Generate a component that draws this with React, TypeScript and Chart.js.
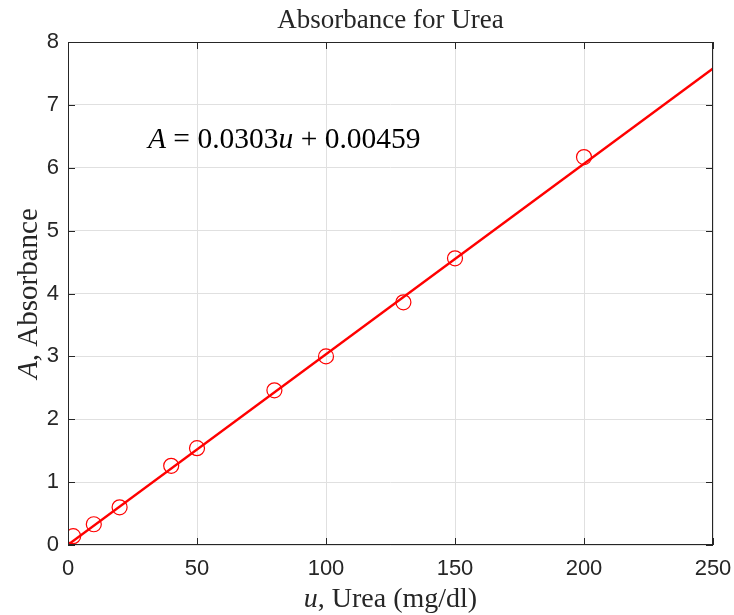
import React, { useEffect, useRef } from "react";
import { Chart, registerables } from "chart.js";

Chart.register(...registerables);

// ---- data ----
const ureaValues = [2, 10, 20, 40, 50, 80, 100, 130, 150, 200];
const absorbanceValues = [0.14, 0.33, 0.6, 1.26, 1.54, 2.46, 3.0, 3.86, 4.56, 6.17];
const fitU = [0, 250];
const fitA = [0.005, 7.58];
const xTickValues = [0, 50, 100, 150, 200, 250];
const yTickValues = [0, 1, 2, 3, 4, 5, 6, 7, 8];
const titleText = "Absorbance for Urea";
const xLabelParts = [
  { t: "u", i: true },
  { t: ", Urea (mg/dl)", i: false },
];
const yLabelParts = [
  { t: "A", i: true },
  { t: ", Absorbance", i: false },
];
const equationParts = [
  { t: "A", i: true },
  { t: " = 0.0303", i: false },
  { t: "u", i: true },
  { t: " + 0.00459", i: false },
];
const equationAt = { u: 31, a: 6.31 };

const SERIF = '"Liberation Serif", "Times New Roman", serif';
const SANS = '"Liberation Sans", Arial, sans-serif';
const AXIS = "#262626";

function drawParts(ctx: CanvasRenderingContext2D, parts: { t: string; i: boolean }[], size: number, x: number, y: number, align: "left" | "center") {
  const fonts = parts.map((p) => `${p.i ? "italic " : ""}${size}px ${SERIF}`);
  let total = 0;
  const widths = parts.map((p, k) => {
    ctx.font = fonts[k];
    const w = ctx.measureText(p.t).width;
    total += w;
    return w;
  });
  let cx = align === "center" ? x - total / 2 : x;
  ctx.textAlign = "left";
  ctx.textBaseline = "alphabetic";
  parts.forEach((p, k) => {
    ctx.font = fonts[k];
    ctx.fillText(p.t, cx, y);
    cx += widths[k];
  });
}

const decorPlugin = {
  id: "decor",
  afterDraw(chart: any) {
    const { ctx, chartArea, scales } = chart;
    const { left, right, top, bottom } = chartArea;
    ctx.save();
    // box
    ctx.strokeStyle = AXIS;
    ctx.lineWidth = 1;
    ctx.strokeRect(left + 0.5, top + 0.5, right - left - 1, bottom - top - 1);
    // inward ticks
    const tl = 7;
    ctx.beginPath();
    xTickValues.forEach((v) => {
      const px = Math.round(scales.x.getPixelForValue(v)) + 0.5;
      ctx.moveTo(px, bottom);
      ctx.lineTo(px, bottom - tl);
      ctx.moveTo(px, top);
      ctx.lineTo(px, top + tl);
    });
    yTickValues.forEach((v) => {
      const py = Math.round(scales.y.getPixelForValue(v)) + 0.5;
      ctx.moveTo(left, py);
      ctx.lineTo(left + tl, py);
      ctx.moveTo(right, py);
      ctx.lineTo(right - tl, py);
    });
    ctx.stroke();

    ctx.fillStyle = AXIS;
    const cx = (left + right) / 2;
    // title
    drawParts(ctx, [{ t: titleText, i: false }], 27, cx, 28, "center");
    // x label
    drawParts(ctx, xLabelParts, 28, cx, 607, "center");
    // y label
    ctx.save();
    ctx.translate(37, (top + bottom) / 2);
    ctx.rotate(-Math.PI / 2);
    drawParts(ctx, yLabelParts, 29, 0, 0, "center");
    ctx.restore();
    // equation
    ctx.fillStyle = "#000000";
    const ex = scales.x.getPixelForValue(equationAt.u);
    const ey = scales.y.getPixelForValue(equationAt.a);
    drawParts(ctx, equationParts, 29.5, ex, ey, "left");
    ctx.restore();
  },
};

export default function App() {
  const ref = useRef<HTMLCanvasElement>(null);
  useEffect(() => {
    document.body.style.margin = "0";
    const canvas = ref.current!;
    const chart = new Chart(canvas, {
      type: "scatter",
      data: {
        datasets: [
          {
            label: "data",
            data: ureaValues.map((u, k) => ({ x: u, y: absorbanceValues[k] })),
            showLine: false,
            pointStyle: "circle",
            pointRadius: 7.5,
            pointBorderWidth: 1.2,
            pointBorderColor: "#ff0000",
            pointBackgroundColor: "rgba(0,0,0,0)",
          },
          {
            label: "fit",
            data: fitU.map((u, k) => ({ x: u, y: fitA[k] })),
            showLine: true,
            borderColor: "#ff0000",
            borderWidth: 2.5,
            pointRadius: 0,
          },
        ],
      },
      options: {
        animation: false,
        responsive: false,
        events: [],
        layout: { padding: { top: 42, right: 21, left: 0, bottom: 0 } },
        plugins: { legend: { display: false }, title: { display: false }, tooltip: { enabled: false } },
        scales: {
          x: {
            type: "linear",
            min: 0,
            max: 250,
            afterFit: (s: any) => {
              s.height = 70;
              s.paddingLeft = 0;
              s.paddingRight = 0;
            },
            afterBuildTicks: (s: any) => {
              s.ticks = xTickValues.map((v) => ({ value: v }));
            },
            border: { display: false },
            grid: { color: "#e0e0e0", lineWidth: 1, drawTicks: false },
            ticks: { color: AXIS, font: { family: SANS, size: 22 }, padding: 11, maxRotation: 0 },
          },
          y: {
            type: "linear",
            min: 0,
            max: 8,
            afterFit: (s: any) => {
              s.width = 68;
              s.paddingTop = 0;
              s.paddingBottom = 0;
            },
            afterBuildTicks: (s: any) => {
              s.ticks = yTickValues.map((v) => ({ value: v }));
            },
            border: { display: false },
            grid: { color: "#e0e0e0", lineWidth: 1, drawTicks: false },
            ticks: { color: AXIS, font: { family: SANS, size: 22 }, padding: 9 },
          },
        },
      } as any,
      plugins: [decorPlugin],
    });
    return () => chart.destroy();
  }, []);
  return (
    <div style={{ width: 734, height: 615 }}>
      <canvas ref={ref} width={734} height={615} style={{ display: "block" }} />
    </div>
  );
}
